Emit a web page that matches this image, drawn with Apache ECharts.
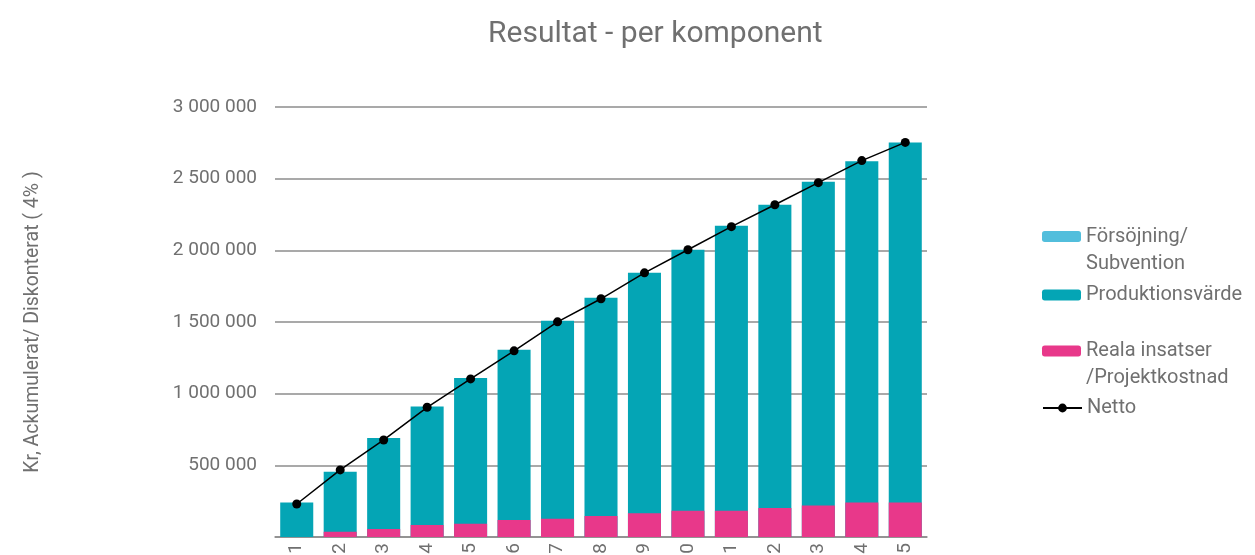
<!DOCTYPE html>
<html>
<head>
<meta charset="utf-8">
<script src="https://cdn.jsdelivr.net/npm/echarts@6/dist/echarts.min.js"></script>
<style>
  html, body { margin: 0; padding: 0; background: #fff; }
  #main { width: 1255px; height: 555px; }
</style>
</head>
<body>
<div id="main"></div>
<script>
// kategorier (år), bara sista siffran syns i originalet
var years = ["1", "2", "3", "4", "5", "6", "7", "8", "9", "10", "11", "12", "13", "14", "15"];

// värden (kr, ackumulerat)
var forsorjning = [0, 0, 0, 0, 0, 0, 0, 0, 0, 0, 0, 0, 0, 0, 0];
var produktion = [240000, 456000, 690000, 910000, 1110000, 1306000, 1508000, 1669000,
  1843000, 2004000, 2172000, 2318000, 2479000, 2621000, 2753000];
var reala = [0, 36000, 55000, 84000, 93000, 119000, 128000, 147000,
  165000, 184000, 184000, 202000, 219000, 240000, 240000];
var netto = [230000, 468000, 677000, 905000, 1103000, 1299000, 1501000, 1662000,
  1843000, 2004000, 2165000, 2318000, 2472000, 2626000, 2753000];

var textColor = "#707070";
var lineColor = "#8c8c8c";

var myChart = echarts.init(document.getElementById("main"));

// tusentalsavgränsare med mellanslag
function kr(v) {
  return String(v).replace(/\B(?=(\d{3})+(?!\d))/g, " ");
}

function legendItem(name, top, label) {
  return {
    orient: "vertical",
    left: 1042,
    top: top,
    padding: 0,
    itemWidth: 39,
    itemHeight: 11,
    data: [name],
    formatter: function () { return label; },
    textStyle: { color: textColor, fontSize: 20, fontFamily: "Roboto", lineHeight: 27 },
  };
}

var option = {
  title: {
    text: "Resultat - per komponent",
    left: 483,
    top: 14,
    textStyle: { fontSize: 30, fontWeight: "normal", fontFamily: "Roboto", color: textColor },
  },
  legend: [
    // tom första rad så att första raden hamnar i höjd med ikonen
    legendItem("Försöjning/ Subvention", 196, "\nFörsöjning/\nSubvention"),
    legendItem("Produktionsvärde", 281.5, "Produktionsvärde"),
    legendItem("Reala insatser /Projektkostnad", 310.5, "\nReala insatser\n/Projektkostnad"),
    legendItem("Netto", 394.5, "Netto"),
  ],
  grid: {
    left: 275,
    right: 328,
    top: 107,
    bottom: 18,
    containLabel: false,
    outerBoundsMode: "none",
  },
  xAxis: {
    type: "category",
    data: years,
    axisLine: { lineStyle: { color: lineColor, width: 1.5 } },
    axisTick: { show: false },
    axisLabel: { rotate: 90, margin: 6, fontSize: 19, fontFamily: "Roboto", color: textColor },
  },
  yAxis: {
    type: "value",
    min: 0,
    max: 3000000,
    interval: 500000,
    name: "Kr, Ackumulerat/ Diskonterat ( 4% )",
    nameLocation: "middle",
    nameGap: 232,
    nameTextStyle: { fontSize: 19.5, fontFamily: "Roboto", color: textColor },
    axisLine: { show: false },
    axisTick: { show: false },
    splitLine: { lineStyle: { color: lineColor, width: 1.5 } },
    axisLabel: {
      showMinLabel: false,
      margin: 18,
      fontSize: 19,
      fontFamily: "Roboto",
      color: textColor,
      formatter: kr,
    },
  },
  series: [
    {
      name: "Försöjning/ Subvention",
      type: "bar",
      color: "#52bedc",
      barGap: "-100%",
      barCategoryGap: "24%",
      data: forsorjning,
    },
    {
      name: "Produktionsvärde",
      type: "bar",
      color: "#04a5b5",
      barGap: "-100%",
      barCategoryGap: "24%",
      data: produktion,
    },
    {
      name: "Reala insatser /Projektkostnad",
      type: "bar",
      color: "#e8388a",
      barGap: "-100%",
      barCategoryGap: "24%",
      data: reala,
    },
    {
      name: "Netto",
      type: "line",
      color: "#000",
      symbol: "circle",
      symbolSize: 9,
      lineStyle: { width: 1.5 },
      z: 5,
      data: netto,
    },
  ],
};

myChart.setOption(option);
window.addEventListener("resize", myChart.resize);
</script>
</body>
</html>
